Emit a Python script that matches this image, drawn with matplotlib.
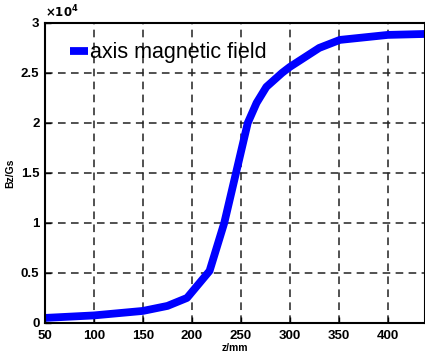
import matplotlib
matplotlib.use('Agg')
import matplotlib.pyplot as plt

plt.rcParams['font.family'] = ['Liberation Sans', 'DejaVu Sans']

# data
z_mm = [50, 100, 150, 175, 195, 218, 233, 245, 257, 266, 276, 292, 300, 330, 351, 400, 440]
bz_gs = [500, 750, 1200, 1700, 2500, 5200, 10000, 15000, 20000, 22000, 23600, 25000,
         25600, 27500, 28300, 28800, 28900]
x_ticks = [50, 100, 150, 200, 250, 300, 350, 400]
y_ticks = [0, 5000, 10000, 15000, 20000, 25000, 30000]
y_labels = ['0', '0.5', '1', '1.5', '2', '2.5', '3']

fig = plt.figure(figsize=(4.25, 3.58), dpi=100)
ax = fig.add_axes([0.106, 0.098, 0.894, 0.838])

ax.plot(z_mm, bz_gs, color='#0000ff', linewidth=5.6, solid_capstyle='butt',
        solid_joinstyle='round', label='axis magnetic field')

ax.set_xlim(50, 438)
ax.set_ylim(0, 30000)
ax.set_xticks(x_ticks)
ax.set_yticks(y_ticks)
ax.set_yticklabels(y_labels)
ax.tick_params(direction='in', length=4, width=1, labelsize=9.5)
ax.tick_params(axis='x', pad=5)
ax.tick_params(axis='y', pad=4)
for lab in ax.get_xticklabels() + ax.get_yticklabels():
    lab.set_fontweight('bold')

ax.grid(True, color='#222222', linestyle=(0, (5, 3.5)), linewidth=1.1)
for s in ax.spines.values():
    s.set_linewidth(1.5)

ax.text(0.0, 1.01, r'$\mathbf{\times10^4}$', transform=ax.transAxes, fontsize=8.5,
        ha='left', va='bottom')

ax.set_xlabel('z/mm', fontsize=7.5, fontweight='bold', labelpad=1)
ax.set_ylabel('Bz/Gs', fontsize=7.5, fontweight='bold', labelpad=4)

leg = ax.legend(loc='center left', bbox_to_anchor=(0.065, 0.9), frameon=False,
                fontsize=15.5, handlelength=0.85, handletextpad=0.1,
                borderaxespad=0, borderpad=0)

fig.savefig('out.png', dpi=100)
